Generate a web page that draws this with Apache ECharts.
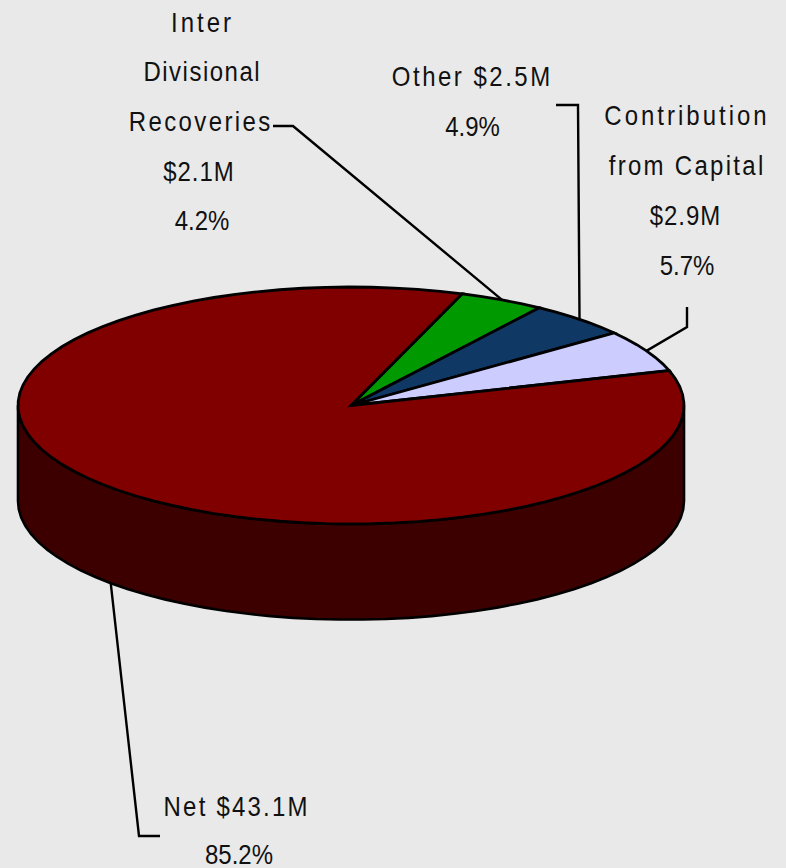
<!DOCTYPE html>
<html>
<head>
<meta charset="utf-8">
<style>
  html, body { margin: 0; padding: 0; background: #e9e9e9; }
  #chart { width: 786px; height: 868px; }
</style>
<script src="https://cdn.jsdelivr.net/npm/echarts@6/dist/echarts.min.js"></script>
</head>
<body>
<div id="chart"></div>
<script>
// Revenue split, clockwise from the green wedge
const categories = [
  ['Inter', 'Divisional', 'Recoveries'],
  ['Other'],
  ['Contribution', 'from Capital'],
  ['Net']
];
const amounts = [2.1, 2.5, 2.9, 43.1];
const percentLabels = ['4.2%', '4.9%', '5.7%', '85.2%'];
const amountLabels = ['$2.1M', '$2.5M', '$2.9M', '$43.1M'];
const joinAmountOnNameLine = [false, true, false, true];
const sliceColors = ['#009900', '#0f3864', '#ccccff', '#800000'];
const wallColor = '#3c0000';

const startAngle = 70.5;      // degrees, counter-clockwise from +x on the ellipse
const wallDepth = 0.807;      // disc thickness in y-axis units
const arcStep = 4;

// Per-line label placement in page pixels, and tracking for each line
const labelLineX = [
  [201, 201.5, 199.5, 198.5, 202],
  [471, 472.5],
  [685.5, 686, 685, 687],
  [235.5, 239]
];
const labelFirstLineY = [22, 76, 115, 806.5];
const labelLineGap = [49.7, 50, 50, 47.5];
const labelTracking = [
  [3, 1.5, 2.4, 1, 0],
  [2.5, 0],
  [3, 2.3, 1, 0],
  [2.2, 0]
];
const leaderElbows = [
  [[293, 126], [273, 126]],
  [[578, 105], [556, 105]],
  [[687, 327], [687, 307]],
  [[139, 836], [160, 836]]
];

// Labels use a tall, slightly condensed face
const labelFontSize = 27.5;
const labelScaleX = 0.873;

const total = amounts.reduce((a, b) => a + b, 0);
const sliceRows = [];
let cursor = startAngle;
amounts.forEach((v, i) => {
  const sweep = v / total * 360;
  sliceRows.push([cursor, cursor - sweep, i]);
  cursor -= sweep;
});

const rad = d => d * Math.PI / 180;
const onRim = (api, deg, drop) => api.coord([Math.cos(rad(deg)), Math.sin(rad(deg)) - (drop || 0)]);

function arcPoints(api, from, to, drop) {
  const pts = [];
  const n = Math.max(1, Math.ceil(Math.abs(to - from) / arcStep));
  for (let k = 0; k <= n; k++) pts.push(onRim(api, from + (to - from) * k / n, drop));
  return pts;
}

// Part of a clockwise sweep that faces the viewer (sine below zero)
function frontRange(hi, lo) {
  for (const shift of [0, -360, 360]) {
    const a = Math.min(hi + shift, 0), b = Math.max(lo + shift, -180);
    if (a > b) return [a, b];
  }
  return null;
}

function labelLines(i) {
  return joinAmountOnNameLine[i]
    ? [categories[i][0] + ' ' + amountLabels[i], percentLabels[i]]
    : categories[i].concat(amountLabels[i], percentLabels[i]);
}

function renderWall(params, api) {
  const range = frontRange(api.value(0), api.value(1));
  if (!range) return null;
  const upper = arcPoints(api, range[0], range[1], 0);
  const lower = arcPoints(api, range[1], range[0], wallDepth);
  return {
    type: 'polygon',
    shape: { points: upper.concat(lower) },
    style: { fill: wallColor, stroke: '#000', lineWidth: 2.6, lineJoin: 'round' }
  };
}

function renderTop(params, api) {
  const pts = [api.coord([0, 0])].concat(arcPoints(api, api.value(0), api.value(1), 0));
  return {
    type: 'polygon',
    shape: { points: pts },
    style: { fill: sliceColors[api.value(2)], stroke: '#000', lineWidth: 2.8, lineJoin: 'miter' }
  };
}

function renderLeader(params, api) {
  const i = api.value(2);
  const mid = (api.value(0) + api.value(1)) / 2;
  const drop = Math.sin(rad(mid)) < 0 ? wallDepth : 0;
  return {
    type: 'polyline',
    shape: { points: [onRim(api, mid, drop)].concat(leaderElbows[i]) },
    style: { fill: null, stroke: '#000', lineWidth: 2.4 }
  };
}

function renderLabel(params, api) {
  const i = api.value(2);
  return {
    type: 'group',
    children: labelLines(i).map((line, k) => ({
      type: 'text',
      x: labelLineX[i][k] + labelTracking[i][k] / 2,
      y: labelFirstLineY[i] + k * labelLineGap[i],
      scaleX: labelScaleX,
      style: {
        text: line,
        align: 'center',
        verticalAlign: 'middle',
        font: labelFontSize + 'px "Liberation Sans", Arial, sans-serif',
        fill: '#111'
      }
    }))
  };
}

const layer = (name, renderItem) => ({
  type: 'custom',
  name,
  coordinateSystem: 'cartesian2d',
  renderItem,
  data: sliceRows,
  clip: false,
  silent: true,
  animation: false
});

const chart = echarts.init(document.getElementById('chart'), null, { renderer: 'svg' });

// The label font is tracked out line by line, which SVG text does through CSS
const trackingByLine = new Map();
categories.forEach((_, i) => labelLines(i).forEach((line, k) => trackingByLine.set(line, labelTracking[i][k])));
function applyTracking() {
  chart.getDom().querySelectorAll('text').forEach(node => {
    const t = trackingByLine.get(node.textContent);
    if (t !== undefined) node.style.letterSpacing = (t / labelScaleX) + 'px';
  });
}
chart.on('finished', applyTracking);

chart.setOption({
  backgroundColor: '#e9e9e9',
  animation: false,
  grid: { left: 18, top: 287, width: 666, height: 237 },
  xAxis: { type: 'value', min: -1, max: 1, show: false },
  yAxis: { type: 'value', min: -1, max: 1, show: false },
  series: [
    layer('wall', renderWall),
    layer('leaders', renderLeader),
    layer('top', renderTop),
    layer('labels', renderLabel)
  ]
});
</script>
</body>
</html>
